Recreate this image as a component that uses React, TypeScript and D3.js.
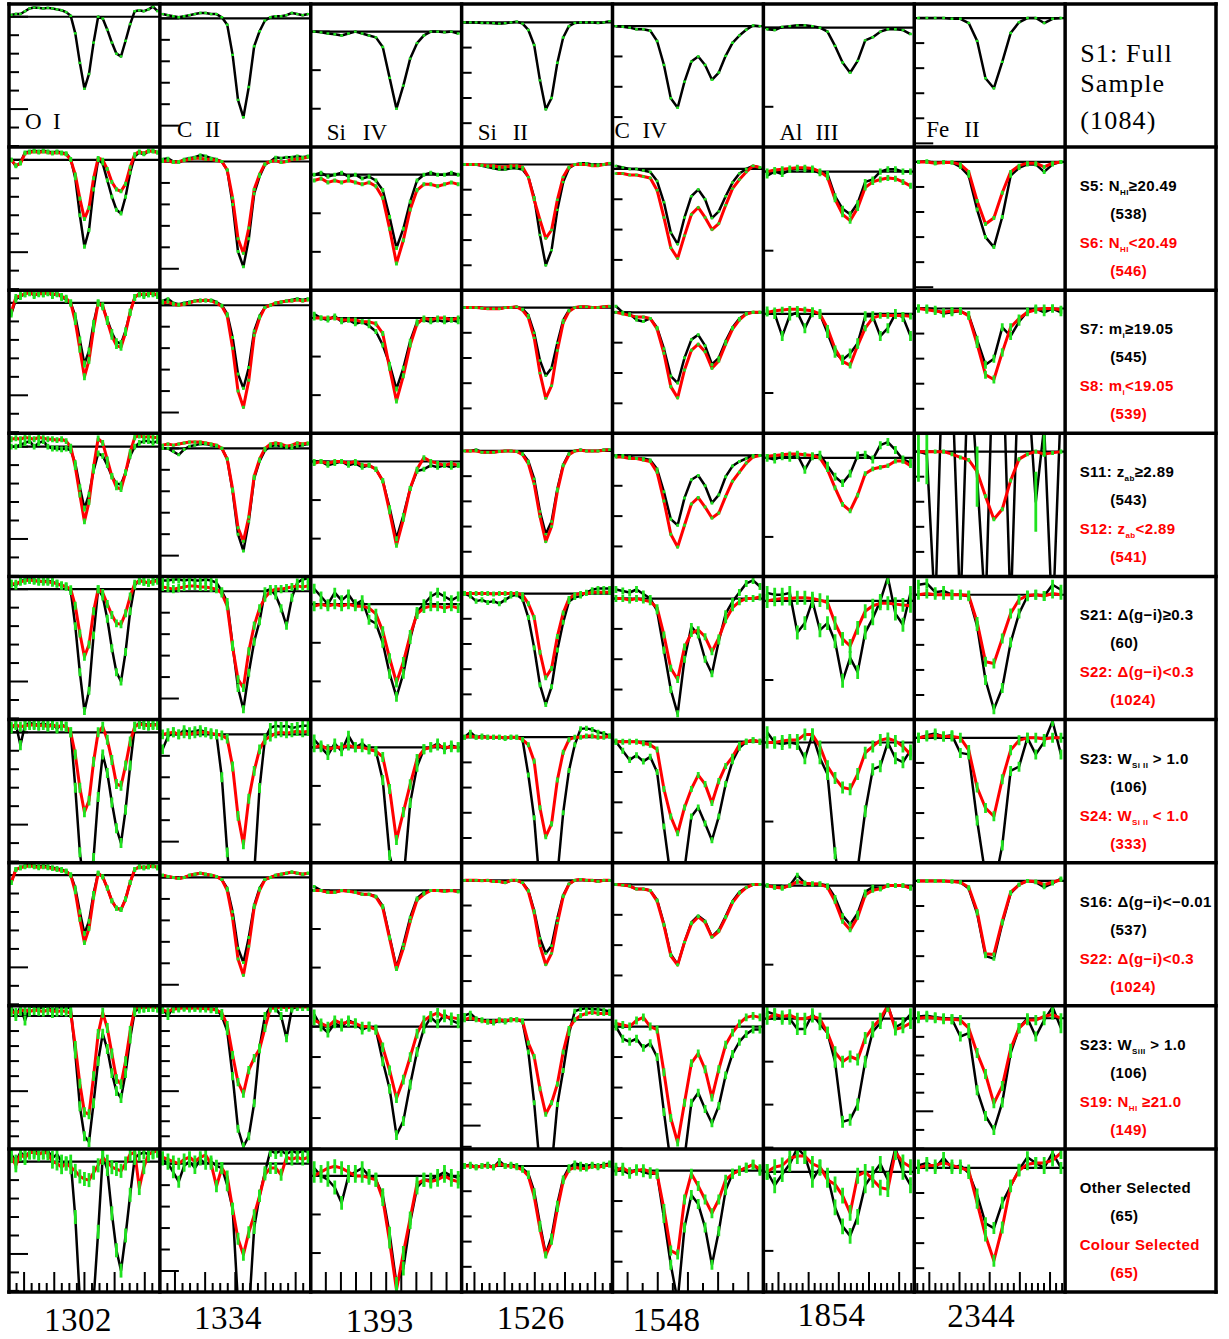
import React from "react";
import * as d3 from "d3";

// ------------------------------------------------------------------ data
const SPECIES = ["O I", "C II", "Si IV", "Si II", "C IV", "Al III", "Fe II"];
const WAVELENGTHS = ["1302", "1334", "1393", "1526", "1548", "1854", "2344"];

// normalised flux per row (row 1 = full sample), black = first sample of the pair
const OI_BLACK = [
  [1.01,1.015,1.015,1.03,1.045,1.05,1.048,1.045,1.048,1.045,1.04,1.035,1.025,1.005,0.91,0.75,0.61,0.69,0.86,1.0,0.99,0.93,0.86,0.80,0.785,0.87,0.96,1.03,1.035,1.03,1.04,1.055,1.03],
  [1.0,0.965,0.985,1.04,1.045,1.05,1.045,1.05,1.045,1.04,1.045,1.04,1.035,1.005,0.90,0.70,0.53,0.62,0.84,1.0,0.98,0.89,0.80,0.73,0.71,0.80,0.93,1.02,1.04,1.03,1.045,1.05,1.04],
  [0.94,1.02,1.035,1.05,1.06,1.04,1.055,1.05,1.06,1.04,1.055,1.03,1.02,1.0,0.93,0.80,0.67,0.74,0.89,1.0,0.98,0.91,0.84,0.79,0.78,0.85,0.95,1.03,1.05,1.04,1.05,1.05,1.04],
  [1.0,1.0,1.01,1.02,1.03,1.0,1.02,1.03,1.0,0.99,0.99,0.985,0.99,0.98,0.91,0.78,0.665,0.74,0.87,0.963,0.95,0.90,0.84,0.80,0.795,0.86,0.95,1.0,1.02,1.03,1.03,1.02,1.03],
  [1.03,1.02,1.045,1.05,1.055,1.05,1.04,1.045,1.045,1.04,1.03,1.02,1.015,0.99,0.80,0.55,0.34,0.45,0.75,1.0,0.96,0.84,0.68,0.55,0.50,0.66,0.88,1.02,1.05,1.04,1.035,1.045,1.05],
  [1.02,1.045,0.93,1.04,1.05,1.045,1.04,1.05,1.035,1.045,1.02,1.04,1.03,1.0,0.70,0.35,0.15,0.15,0.32,0.65,0.88,0.78,0.62,0.48,0.40,0.58,0.82,1.03,1.05,1.045,1.04,1.045,1.04],
  [0.96,1.03,1.04,1.05,1.055,1.05,1.045,1.05,1.045,1.04,1.035,1.03,1.02,1.0,0.93,0.80,0.684,0.75,0.90,1.01,0.99,0.93,0.86,0.82,0.813,0.87,0.96,1.03,1.045,1.04,1.045,1.05,1.04],
  [1.06,1.0,1.06,0.97,1.06,1.065,1.05,1.06,1.065,1.02,1.06,1.055,1.06,1.05,0.75,0.40,0.20,0.162,0.42,0.70,0.883,0.78,0.62,0.50,0.454,0.62,0.85,1.03,1.05,1.06,1.06,1.065,1.06],
  [1.04,1.0,1.05,1.03,1.05,1.06,1.045,1.05,1.06,1.02,1.04,1.0,0.99,1.0,0.70,0.25,0.10,0.10,0.25,0.62,1.03,0.96,0.72,0.52,0.41,0.60,0.82,1.02,1.04,1.05,1.04,1.055,1.06],
];
const OI_RED = [
  [1.0,0.97,0.98,1.035,1.04,1.045,1.04,1.045,1.04,1.035,1.04,1.035,1.03,1.0,0.92,0.79,0.68,0.74,0.90,1.01,1.0,0.95,0.88,0.84,0.83,0.87,0.96,1.03,1.045,1.035,1.05,1.045,1.04],
  [0.95,1.03,1.04,1.05,1.055,1.045,1.05,1.05,1.055,1.045,1.05,1.035,1.025,1.0,0.90,0.75,0.60,0.69,0.86,1.0,0.985,0.90,0.82,0.77,0.76,0.84,0.95,1.03,1.05,1.045,1.05,1.055,1.04],
  [1.04,1.045,1.04,1.05,1.045,1.04,1.05,1.045,1.04,1.04,1.035,1.04,1.03,1.0,0.89,0.74,0.595,0.70,0.89,1.044,1.02,0.93,0.84,0.78,0.77,0.86,0.97,1.05,1.06,1.05,1.055,1.05,1.05],
  [1.03,1.03,1.04,1.045,1.05,1.045,1.045,1.04,1.04,1.035,1.03,1.02,1.015,1.0,0.91,0.76,0.634,0.70,0.88,1.0,0.98,0.92,0.86,0.815,0.81,0.87,0.96,1.03,1.045,1.04,1.035,1.04,1.045],
  [1.03,1.04,1.03,1.035,1.04,1.04,1.035,1.04,1.03,1.04,1.03,1.035,1.03,1.0,0.88,0.70,0.567,0.63,0.84,1.0,1.03,0.96,0.85,0.72,0.71,0.82,0.95,1.03,1.045,1.04,1.035,1.04,1.04],
  [0.96,1.03,1.04,1.045,1.05,1.045,1.04,1.045,1.04,1.035,1.03,1.025,1.02,1.0,0.91,0.76,0.634,0.71,0.88,1.01,0.99,0.93,0.86,0.82,0.813,0.87,0.96,1.03,1.045,1.04,1.045,1.05,1.04],
  [1.03,1.02,1.035,1.04,1.03,1.04,1.035,1.03,1.04,1.035,1.03,1.035,1.03,1.02,0.80,0.55,0.36,0.346,0.60,0.88,1.022,0.92,0.75,0.58,0.546,0.70,0.90,1.05,1.06,1.055,1.06,1.06,1.055],
  [1.03,0.98,1.04,1.02,1.05,1.05,1.04,1.05,1.045,1.0,0.99,0.97,0.99,0.97,0.95,0.92,0.906,0.90,0.94,0.98,1.02,1.0,0.97,0.96,0.95,0.99,1.04,1.05,0.857,0.97,1.04,1.05,1.06],
];

const CII_BLACK = [
  [1.02,1.015,1.01,1.005,1.01,1.015,1.02,1.025,1.025,1.02,1.02,1.005,0.97,0.83,0.62,0.539,0.68,0.87,0.94,0.99,1.005,1.01,1.01,1.015,1.025,1.02,1.015,1.02],
  [1.01,1.015,1.0,0.995,1.01,1.015,1.02,1.03,1.025,1.015,1.01,1.0,0.96,0.80,0.58,0.509,0.64,0.85,0.93,0.985,1.0,1.02,1.015,1.02,1.02,1.025,1.02,1.025],
  [1.02,1.03,1.01,1.005,1.01,1.015,1.02,1.025,1.02,1.025,1.015,1.0,0.96,0.85,0.68,0.613,0.71,0.88,0.95,0.99,1.0,1.01,1.015,1.02,1.025,1.03,1.025,1.03],
  [1.0,1.0,0.985,0.97,0.995,1.01,1.015,1.02,1.02,1.015,1.01,1.0,0.95,0.80,0.60,0.522,0.66,0.86,0.94,0.99,1.01,1.015,1.01,1.005,1.0,1.01,1.015,1.02],
  [1.05,1.05,1.055,1.055,1.05,1.055,1.05,1.05,1.055,1.05,1.04,1.0,0.95,0.75,0.55,0.45,0.62,0.765,0.86,1.0,1.01,0.98,0.92,0.84,0.97,1.04,1.055,1.06],
  [0.93,0.99,1.01,1.0,1.02,1.01,1.015,1.02,1.01,1.0,1.0,0.80,0.45,0.20,0.10,0.10,0.15,0.35,0.75,0.98,1.03,1.04,1.035,1.04,1.03,1.035,1.04,1.04],
  [1.01,1.005,1.0,0.995,1.0,1.01,1.015,1.02,1.015,1.01,1.005,0.99,0.95,0.84,0.67,0.604,0.72,0.87,0.95,0.99,1.0,1.01,1.015,1.02,1.025,1.02,1.015,1.02],
  [1.05,1.0,1.06,1.055,1.06,1.06,1.055,1.06,1.06,1.05,1.045,1.0,0.90,0.60,0.25,0.131,0.20,0.42,0.79,1.0,1.06,1.05,1.0,0.853,1.05,1.06,1.06,1.065],
  [1.02,1.0,0.96,0.916,0.99,1.01,0.98,1.02,1.0,1.01,0.99,0.98,0.90,0.79,0.35,0.20,0.30,0.70,0.85,0.96,1.06,1.05,1.06,1.045,1.06,1.05,1.06,1.055],
];
const CII_RED = [
  [1.0,1.005,0.995,1.0,1.005,1.01,1.015,1.015,1.01,1.01,1.005,1.0,0.96,0.83,0.64,0.572,0.69,0.87,0.94,0.99,1.0,1.005,0.995,1.0,1.01,1.01,1.015,1.02],
  [1.01,1.015,1.005,1.0,1.005,1.01,1.02,1.02,1.025,1.02,1.01,0.995,0.95,0.80,0.60,0.524,0.65,0.86,0.94,0.99,1.0,1.01,1.015,1.02,1.02,1.025,1.02,1.025],
  [1.015,1.02,1.015,1.02,1.025,1.03,1.03,1.03,1.025,1.02,1.015,1.0,0.95,0.81,0.63,0.567,0.68,0.87,0.95,1.0,1.02,1.025,1.02,1.01,1.015,1.025,1.02,1.025],
  [1.02,1.015,1.01,1.015,1.02,1.025,1.025,1.02,1.02,1.015,1.01,0.99,0.93,0.74,0.59,0.55,0.72,0.84,0.92,0.97,1.0,1.01,1.01,1.015,1.02,1.025,1.02,1.025],
  [1.0,1.005,1.01,1.0,1.005,1.0,1.005,1.01,1.01,1.005,1.0,0.995,0.98,0.85,0.62,0.487,0.70,0.83,0.93,0.975,0.99,1.005,1.01,1.005,1.01,1.015,1.01,1.015],
  [1.01,1.005,1.0,0.995,1.0,1.01,1.015,1.02,1.015,1.01,1.005,0.99,0.94,0.81,0.62,0.544,0.68,0.86,0.94,0.99,1.0,1.01,1.015,1.02,1.025,1.02,1.015,1.02],
  [1.04,1.03,1.045,1.05,1.055,1.05,1.055,1.05,1.05,1.045,1.04,1.02,0.94,0.74,0.56,0.484,0.64,0.72,0.78,0.92,1.05,1.055,1.06,1.055,1.06,1.065,1.06,1.06],
  [1.03,1.02,1.01,1.0,1.02,1.03,1.01,1.03,1.04,1.0,0.895,0.98,0.94,0.79,0.65,0.576,0.68,0.76,0.85,0.95,0.98,0.98,0.948,1.03,1.02,1.03,1.02,1.03],
];

const SIIV_BLACK = [
  [1.0,0.998,0.995,0.993,0.99,0.995,1.0,0.995,0.99,0.985,0.96,0.88,0.80,0.86,0.93,0.97,0.99,1.0,1.0,0.998,1.0,0.995],
  [1.0,1.005,0.995,1.0,1.005,0.995,1.0,0.99,0.995,0.985,0.96,0.89,0.81,0.86,0.93,0.985,1.0,1.005,1.0,1.0,1.005,1.0],
  [1.01,1.0,0.995,1.005,0.99,0.995,0.985,0.99,0.98,0.965,0.93,0.88,0.816,0.87,0.94,0.99,0.995,0.99,0.995,0.99,0.995,0.99],
  [1.0,1.0,0.99,0.995,1.0,0.99,0.995,0.985,0.99,0.98,0.95,0.88,0.80,0.86,0.93,0.975,0.98,0.99,0.985,0.99,0.985,0.99],
  [1.04,1.02,1.0,1.03,1.01,1.025,1.0,1.01,0.96,0.95,0.90,0.82,0.76,0.82,0.91,0.98,1.0,1.02,1.03,1.02,1.01,1.02],
  [1.02,1.0,0.98,1.01,0.99,1.03,1.0,1.01,0.995,0.99,0.915,0.72,0.65,0.65,0.856,0.95,0.995,1.0,1.01,0.995,1.005,1.0],
  [1.01,1.0,0.995,0.995,1.0,0.998,0.995,0.99,0.99,0.985,0.96,0.88,0.80,0.86,0.93,0.98,0.995,1.0,1.0,0.998,1.0,0.997],
  [1.04,1.0,0.98,1.01,1.0,1.02,1.01,0.99,1.0,0.99,0.886,0.796,0.644,0.69,0.81,0.917,0.993,1.03,1.01,1.04,1.02,1.01],
  [1.02,1.0,0.99,0.97,0.93,1.0,1.01,1.02,1.0,0.99,0.95,0.85,0.72,0.76,0.88,0.97,0.99,0.99,1.0,1.01,1.0,0.995],
];
const SIIV_RED = [
  [0.985,0.99,0.98,0.985,0.98,0.985,0.98,0.975,0.98,0.97,0.94,0.86,0.77,0.83,0.91,0.96,0.975,0.975,0.97,0.975,0.98,0.975],
  [1.0,1.0,1.0,1.0,0.995,0.995,0.995,0.99,0.99,0.985,0.96,0.87,0.785,0.85,0.93,0.985,1.0,0.995,1.0,1.0,0.995,1.0],
  [0.995,1.0,0.995,1.0,1.0,0.995,1.0,0.99,0.99,0.98,0.95,0.87,0.783,0.85,0.93,0.98,1.01,1.0,0.995,0.99,0.995,0.99],
  [0.995,1.0,0.995,1.0,0.995,1.0,0.995,0.995,0.99,0.975,0.93,0.86,0.797,0.85,0.92,0.975,0.99,0.995,0.995,0.99,0.995,0.99],
  [1.0,1.005,0.995,1.0,1.0,1.005,1.0,1.0,0.995,0.99,0.975,0.892,0.76,0.832,0.904,0.97,0.995,1.0,1.005,1.0,1.0,1.0],
  [1.0,1.0,0.995,0.995,1.0,0.998,0.995,0.99,0.99,0.983,0.955,0.875,0.795,0.85,0.92,0.975,0.99,1.0,1.0,0.998,1.0,0.997],
  [1.02,1.01,1.0,1.02,1.01,1.015,1.01,1.0,1.0,0.99,0.932,0.856,0.765,0.826,0.90,0.977,1.02,1.035,1.045,1.03,1.03,1.025],
  [1.0,1.01,1.02,1.025,1.02,1.01,1.0,1.0,0.995,0.99,0.94,0.83,0.705,0.80,0.89,0.98,0.99,0.985,0.99,1.0,0.99,0.985],
];

const SIII_BLACK = [
  [1.0,1.0,1.0,0.998,0.998,0.997,0.995,0.997,1.0,1.003,0.995,0.97,0.91,0.77,0.655,0.70,0.84,0.94,0.985,0.998,1.0,1.0,1.0,0.998,1.0,1.005],
  [1.0,1.0,1.0,0.995,0.99,0.985,0.98,0.98,0.985,0.985,0.98,0.95,0.87,0.72,0.60,0.66,0.82,0.93,0.985,1.0,1.005,1.005,1.0,1.0,1.0,1.005],
  [1.0,1.0,1.0,0.998,0.995,0.995,0.995,1.0,1.0,1.003,0.995,0.97,0.90,0.79,0.73,0.76,0.86,0.95,0.99,1.0,1.003,1.003,1.0,1.0,1.003,1.005],
  [1.0,1.0,1.005,0.995,0.995,0.995,0.998,1.0,1.0,0.998,0.99,0.96,0.89,0.76,0.67,0.72,0.85,0.945,0.99,1.0,1.005,1.0,1.0,1.0,1.005,1.005],
  [1.0,0.99,0.97,0.975,0.965,0.97,0.96,0.975,0.99,0.995,0.978,0.905,0.785,0.638,0.56,0.63,0.776,0.886,0.969,0.985,0.99,1.005,1.015,1.02,1.02,1.02],
  [1.0,1.02,1.0,1.005,1.0,1.0,1.0,0.995,1.0,1.0,0.99,0.85,0.68,0.40,0.35,0.35,0.45,0.70,0.868,0.97,1.033,1.035,1.03,1.02,1.015,1.005],
  [1.0,1.0,1.0,0.998,1.0,0.995,0.995,0.99,1.0,1.0,0.99,0.96,0.88,0.77,0.71,0.74,0.85,0.94,0.985,1.0,1.003,1.0,1.0,0.995,1.0,1.0],
  [1.02,1.03,1.005,1.0,0.99,0.985,0.995,0.99,1.0,1.0,0.99,0.848,0.608,0.30,0.25,0.30,0.60,0.76,0.935,1.04,1.05,1.055,1.05,1.05,1.045,1.04],
  [1.0,1.005,0.995,1.0,1.005,0.995,1.02,1.0,1.005,1.0,0.99,0.97,0.90,0.77,0.65,0.72,0.85,0.95,0.995,1.01,1.005,1.0,1.005,1.0,1.005,1.01],
];
const SIII_RED = [
  [1.0,1.0,1.0,0.998,0.995,0.995,0.99,0.99,0.995,0.995,0.99,0.95,0.86,0.78,0.707,0.74,0.86,0.95,0.99,1.0,1.0,1.0,0.995,0.995,1.0,1.005],
  [1.0,1.0,1.0,0.998,0.995,0.995,0.995,1.0,1.0,1.003,0.99,0.96,0.88,0.74,0.64,0.69,0.83,0.94,0.985,1.0,1.003,1.003,1.0,1.0,1.003,1.005],
  [1.0,1.0,1.0,0.995,0.995,0.995,0.998,1.0,1.0,0.998,0.985,0.95,0.87,0.74,0.64,0.70,0.84,0.94,0.985,1.0,1.003,1.0,1.0,1.0,1.003,1.005],
  [1.0,1.0,1.0,1.0,1.0,0.998,1.0,1.0,1.0,1.0,0.995,0.96,0.905,0.767,0.666,0.703,0.83,0.923,0.98,0.995,1.0,1.0,1.005,1.005,1.005,1.005],
  [1.0,1.005,1.0,1.0,1.0,1.0,1.0,0.998,1.0,1.0,0.99,0.97,0.905,0.72,0.605,0.656,0.83,0.94,0.99,1.0,1.0,1.005,1.005,1.0,1.0,1.005],
  [1.0,1.0,1.0,0.998,1.0,0.995,0.995,0.99,1.0,1.0,0.99,0.955,0.87,0.74,0.665,0.71,0.83,0.935,0.985,1.0,1.003,1.0,1.0,0.995,1.0,1.0],
  [1.0,1.01,1.0,0.995,0.99,0.99,1.0,0.995,1.0,1.0,0.995,0.89,0.826,0.674,0.554,0.608,0.696,0.848,0.958,1.0,1.02,1.03,1.035,1.03,1.03,1.03],
  [1.0,1.0,0.995,1.0,1.0,0.995,1.01,1.0,1.0,0.995,0.985,0.96,0.88,0.75,0.645,0.70,0.83,0.94,0.985,0.995,0.99,0.99,1.0,0.995,1.0,1.005],
];

const CIV_BLACK = [
  [1.0,0.998,0.995,0.99,0.99,0.985,0.951,0.872,0.762,0.731,0.817,0.883,0.90,0.872,0.823,0.847,0.902,0.945,0.969,0.988,1.002,1.0],
  [1.01,1.005,1.0,1.0,0.995,0.99,0.96,0.89,0.79,0.752,0.84,0.91,0.932,0.90,0.838,0.86,0.91,0.955,0.985,1.0,1.01,1.005],
  [1.02,1.0,0.995,0.975,0.97,0.98,0.95,0.88,0.79,0.767,0.85,0.91,0.926,0.89,0.828,0.85,0.905,0.95,0.98,0.995,1.0,1.0],
  [1.0,1.0,0.995,0.99,0.99,0.985,0.955,0.88,0.79,0.77,0.86,0.92,0.934,0.90,0.843,0.87,0.93,0.965,0.98,0.99,1.0,1.0],
  [1.03,1.025,1.02,1.03,1.015,1.0,0.96,0.83,0.70,0.62,0.80,0.908,0.88,0.80,0.752,0.86,0.95,0.99,1.02,1.05,1.06,1.04],
  [1.0,0.97,0.94,0.955,0.935,0.95,0.90,0.72,0.55,0.52,0.58,0.753,0.783,0.73,0.675,0.753,0.86,0.936,0.98,1.0,1.005,1.0],
  [1.0,0.998,0.995,0.985,0.985,0.98,0.95,0.87,0.77,0.736,0.81,0.875,0.897,0.88,0.828,0.85,0.895,0.945,0.975,0.99,1.0,1.0],
  [1.0,0.96,0.95,0.96,0.93,0.945,0.90,0.72,0.55,0.50,0.57,0.75,0.783,0.73,0.683,0.74,0.84,0.91,0.95,0.975,0.99,0.99],
  [1.01,1.0,0.99,1.005,0.995,0.99,0.99,0.844,0.69,0.57,0.813,0.92,0.89,0.813,0.69,0.80,0.936,0.99,1.0,1.01,1.02,1.0],
];
const CIV_RED = [
  [0.985,0.985,0.98,0.98,0.975,0.97,0.93,0.84,0.74,0.705,0.78,0.85,0.873,0.84,0.80,0.82,0.88,0.935,0.965,0.99,1.01,1.005],
  [1.0,0.995,0.99,0.985,0.985,0.98,0.945,0.865,0.755,0.718,0.81,0.875,0.895,0.87,0.816,0.84,0.895,0.945,0.975,0.995,1.0,1.0],
  [0.995,0.995,0.99,0.99,0.985,0.98,0.945,0.85,0.74,0.698,0.77,0.84,0.861,0.83,0.794,0.81,0.865,0.915,0.945,0.975,0.995,1.0],
  [1.0,1.0,0.995,1.0,0.995,0.99,0.97,0.88,0.77,0.733,0.84,0.885,0.897,0.874,0.825,0.87,0.93,0.97,0.99,1.0,1.0,1.005],
  [1.0,1.0,1.0,1.0,0.995,0.99,0.974,0.844,0.753,0.698,0.783,0.844,0.89,0.86,0.798,0.87,0.92,0.95,0.99,1.0,1.005,1.0],
  [1.0,0.998,0.995,0.985,0.985,0.98,0.945,0.865,0.765,0.734,0.81,0.87,0.893,0.875,0.826,0.845,0.89,0.94,0.97,0.99,1.0,1.0],
  [1.01,1.005,1.0,1.02,1.03,1.0,0.99,0.85,0.70,0.62,0.75,0.88,0.912,0.86,0.767,0.86,0.94,0.98,1.01,1.03,1.035,1.03],
  [1.0,1.01,0.995,1.0,1.005,0.995,0.99,0.874,0.737,0.724,0.905,0.99,0.95,0.905,0.86,0.905,0.97,0.99,1.0,1.01,1.02,1.005],
];

const ALIII_BLACK = [
  [0.998,0.997,1.001,1.002,1.003,1.003,1.002,1.0,0.995,0.977,0.956,0.943,0.958,0.984,0.988,0.995,0.998,0.998,0.997,0.992],
  [0.995,1.0,0.997,1.002,1.004,1.003,1.002,0.998,0.997,0.969,0.953,0.946,0.96,0.987,0.99,1.0,1.003,1.003,1.0,1.0],
  [1.003,1.0,0.972,0.998,1.002,0.982,1.002,1.0,0.976,0.951,0.942,0.95,0.963,0.997,0.997,0.972,0.982,1.0,0.996,0.972],
  [1.0,0.998,1.002,1.0,1.004,0.985,1.002,1.004,0.99,0.976,0.968,0.98,1.003,1.004,0.998,1.016,1.02,1.01,0.998,0.994],
  [1.01,1.008,1.008,1.01,0.96,0.972,1.0,0.963,0.972,0.949,0.899,0.928,0.91,0.96,0.978,1.0,1.03,0.984,0.97,1.01],
  [1.013,1.0,0.998,1.0,0.998,0.98,1.01,0.98,0.96,0.86,0.80,0.80,0.84,0.913,0.966,0.97,1.0,0.98,0.975,0.99],
  [1.0,0.998,0.997,1.0,1.013,1.003,1.002,1.002,1.0,0.985,0.962,0.951,0.965,0.992,0.998,0.996,1.0,1.0,1.0,0.997],
  [1.016,1.01,1.0,1.0,0.976,0.976,1.01,0.987,0.967,0.90,0.76,0.765,0.80,0.90,0.97,0.99,1.03,0.98,0.99,1.01],
  [1.0,0.983,0.997,1.01,1.03,1.02,0.99,1.005,0.995,0.955,0.931,0.919,0.943,0.983,0.997,1.01,0.99,1.03,1.0,0.983],
];
const ALIII_RED = [
  [1.0,1.002,1.003,1.004,1.005,1.005,1.004,1.0,0.993,0.965,0.946,0.938,0.954,0.98,0.987,0.99,0.992,0.991,0.987,0.982],
  [1.002,1.004,1.005,1.006,1.006,1.005,1.004,1.0,0.982,0.956,0.94,0.935,0.96,0.982,0.995,0.998,0.998,0.998,0.998,0.997],
  [1.002,1.003,1.004,1.005,1.005,1.004,1.003,1.0,0.985,0.962,0.941,0.933,0.953,0.98,0.986,0.988,0.99,0.996,0.996,0.99],
  [1.0,1.002,1.003,1.003,1.004,1.004,1.003,1.001,0.998,0.972,0.952,0.943,0.966,0.987,0.994,0.997,0.997,0.996,0.995,0.994],
  [1.0,1.0,1.002,1.003,1.003,1.01,1.01,0.995,0.97,0.955,0.943,0.941,0.96,0.987,0.995,1.003,1.005,1.002,0.995,0.985],
  [1.0,0.998,0.997,1.0,1.005,1.003,1.002,1.002,0.998,0.98,0.955,0.944,0.96,0.988,0.994,0.996,1.0,1.0,1.0,0.997],
  [1.0,1.01,1.005,1.008,1.0,1.0,1.005,1.0,0.967,0.922,0.90,0.912,0.905,0.955,0.98,1.0,1.03,0.975,0.98,0.99],
  [1.0,1.006,1.008,1.017,1.02,1.02,1.01,1.006,0.99,0.984,0.97,0.948,0.995,1.0,0.99,0.98,0.978,1.025,1.012,1.006],
];

const FEII_BLACK = [
  [1.0,1.0,1.0,1.0,0.997,0.997,0.98,0.909,0.76,0.72,0.825,0.94,0.983,1.0,1.0,0.98,0.997,1.0],
  [1.0,1.003,0.995,1.0,0.998,0.98,0.945,0.81,0.70,0.66,0.78,0.945,0.976,0.99,0.99,0.96,0.99,1.0],
  [1.0,1.0,0.995,0.98,0.985,0.99,0.974,0.875,0.776,0.80,0.925,0.89,0.947,0.988,1.0,0.985,1.0,0.985],
  [1.0,0.99,0.35,1.5,1.3,0.35,1.4,0.90,0.35,1.5,1.45,0.35,1.4,1.3,0.80,1.1,0.30,1.2],
  [1.04,1.045,1.01,1.015,1.0,1.0,0.994,0.875,0.66,0.543,0.628,0.809,0.925,0.994,1.0,0.995,1.04,1.02],
  [1.0,1.01,1.017,1.005,1.01,0.94,0.934,0.67,0.45,0.40,0.571,0.868,0.885,1.0,0.934,0.984,1.066,0.934],
  [1.0,1.0,1.0,1.0,0.998,0.995,0.97,0.87,0.70,0.69,0.83,0.95,0.985,1.0,0.995,0.975,0.99,1.01],
  [1.01,1.013,1.005,1.0,0.995,0.902,0.92,0.613,0.475,0.40,0.547,0.813,0.947,1.0,0.902,0.99,1.06,0.947],
  [1.01,1.02,1.0,1.04,1.0,1.01,0.98,0.894,0.779,0.76,0.861,0.927,0.993,1.043,1.02,1.0,1.06,1.0],
];
const FEII_RED = [
  [1.0,1.0,0.995,0.998,0.998,0.99,0.96,0.844,0.752,0.776,0.877,0.96,0.985,0.995,0.995,0.98,0.995,1.0],
  [1.0,0.995,0.99,0.985,0.99,0.99,0.97,0.858,0.736,0.717,0.825,0.925,0.96,0.985,0.995,1.0,1.0,0.995],
  [1.0,1.0,1.0,1.0,0.99,0.977,0.967,0.92,0.822,0.73,0.77,0.885,0.97,0.99,1.0,0.99,0.995,1.0],
  [1.0,1.005,1.0,1.0,1.0,1.0,0.997,0.891,0.733,0.726,0.825,0.925,0.98,0.997,1.0,0.995,1.005,1.0],
  [1.0,1.005,1.01,1.005,1.005,1.0,0.951,0.802,0.72,0.687,0.835,0.951,0.99,1.0,1.0,0.995,1.0,1.0],
  [1.0,1.0,1.0,1.0,0.998,0.995,0.975,0.88,0.71,0.707,0.84,0.955,0.985,1.0,0.998,0.985,0.995,1.005],
  [1.0,1.005,1.0,0.995,0.995,0.99,0.947,0.813,0.70,0.543,0.636,0.836,0.947,0.99,0.99,1.01,1.02,1.0],
  [1.0,1.01,1.01,1.02,1.01,1.0,0.99,0.861,0.73,0.63,0.762,0.93,0.99,1.015,1.02,1.02,1.03,1.06],
];

// y-axis (flux) ranges per [row][column]
const Y_LO = [
  [0.294,0.400,0.7005,0.505,0.601,0.849,0.485],
  [0.294,0.400,0.7005,0.501,0.600,0.850,0.488],
  [0.294,0.403,0.701,0.501,0.601,0.849,0.502],
  [0.297,0.403,0.702,0.502,0.601,0.850,0.502],
  [0.294,0.402,0.701,0.500,0.601,0.850,0.502],
  [0.294,0.402,0.701,0.502,0.601,0.848,0.502],
  [0.292,0.402,0.701,0.502,0.600,0.848,0.502],
  [0.116,0.116,0.599,0.390,0.599,0.697,0.298],
  [0.294,0.402,0.699,0.500,0.600,0.848,0.505],
];
const Y_HI = [
  [1.069,1.067,1.0715,1.073,1.073,1.030,1.056],
  [1.069,1.067,1.0715,1.069,1.072,1.031,1.059],
  [1.069,1.070,1.072,1.069,1.073,1.030,1.073],
  [1.072,1.070,1.073,1.070,1.073,1.031,1.073],
  [1.069,1.069,1.072,1.068,1.073,1.031,1.073],
  [1.069,1.069,1.072,1.070,1.073,1.029,1.073],
  [1.067,1.069,1.072,1.070,1.072,1.029,1.073],
  [1.068,1.068,1.068,1.066,1.068,1.030,1.067],
  [1.069,1.069,1.070,1.068,1.072,1.029,1.076],
];
// 1-sigma flux errors per [row][column]
const ERR_BLACK = [
  [0.0065,0.0056,0.0031,0.0048,0.004,0.0015,0.0048],
  [0.011,0.007,0.0052,0.0048,0.004,0.0038,0.008],
  [0.019,0.007,0.0065,0.0048,0.005,0.0063,0.016],
  [0.016,0.007,0.0065,0.0048,0.005,0.005,0.12],
  [0.0215,0.019,0.013,0.010,0.0116,0.0088,0.02],
  [0.027,0.023,0.013,0.010,0.010,0.0076,0.02],
  [0.0134,0.007,0.004,0.0048,0.004,0.0031,0.008],
  [0.033,0.027,0.016,0.012,0.013,0.014,0.027],
  [0.038,0.028,0.018,0.012,0.0165,0.010,0.024],
];
const ERR_RED = [
  [0,0,0,0,0,0,0],
  [0.011,0.007,0.0052,0.0048,0.004,0.0038,0.008],
  [0.019,0.007,0.0065,0.0048,0.005,0.004,0.016],
  [0.016,0.007,0.0065,0.0048,0.005,0.003,0.008],
  [0.0215,0.019,0.013,0.010,0.0116,0.0088,0.02],
  [0.027,0.023,0.013,0.010,0.010,0.0076,0.02],
  [0.0134,0.007,0.004,0.0048,0.004,0.0031,0.008],
  [0.033,0.027,0.016,0.012,0.013,0.014,0.027],
  [0.038,0.028,0.018,0.012,0.0165,0.010,0.024],
];

const FULL_SAMPLE = ["S1: Full", "Sample", "(1084)"];
const LABEL_BLACK = ["S5: N_{HI}≥20.49","S7: m_{i}≥19.05","S11: z_{ab}≥2.89","S21: Δ(g−i)≥0.3","S23: W_{Si II}  >  1.0","S16: Δ(g−i)<−0.01","S23: W_{SiII}  >  1.0","Other Selected"];
const COUNT_BLACK = ["(538)","(545)","(543)","(60)","(106)","(537)","(106)","(65)"];
const LABEL_RED = ["S6: N_{HI}<20.49","S8: m_{i}<19.05","S12: z_{ab}<2.89","S22: Δ(g−i)<0.3","S24: W_{Si II}  <  1.0","S22: Δ(g−i)<0.3","S19: N_{HI} ≥21.0","Colour Selected"];
const COUNT_RED = ["(546)","(539)","(541)","(1024)","(333)","(1024)","(149)","(65)"];

const BLACK_SERIES = [OI_BLACK, CII_BLACK, SIIV_BLACK, SIII_BLACK, CIV_BLACK, ALIII_BLACK, FEII_BLACK];
const RED_SERIES = [OI_RED, CII_RED, SIIV_RED, SIII_RED, CIV_RED, ALIII_RED, FEII_RED];

// ------------------------------------------------------------------ layout / style
const W = 1229, H = 1339;
const GREEN = "#1fe21f";
const RED = "#ff0000";
const SERIF = "'Liberation Serif','Times New Roman',serif";
const SANS = "'Liberation Sans',Arial,sans-serif";
// species label: [first word dx, second word dx, baseline y]
const SPECIES_POS = [[16,44,129],[17,45,137],[16,52,140],[16,51,140],[2,30,138],[16,52,140],[12,50,137]];
// wavelength label: [centre dx, baseline y]
const WAVE_POS = [[69,1331],[68,1329],[69,1332],[69,1329],[54,1331],[68,1326],[67,1327]];
// bottom tick pattern per column: [first major, major step, minors between]
const XTICK = [[0.1,0.2,3],[0.1,0.2,3],[0.1,0.1,0],[0.085,0.2,3],[0.1,0.2,1],[0.1,0.2,4],[0.1,0.2,4]];

function Rich({ text }: { text: string }) {
  const parts = text.split(/(_\{[^}]*\})/).filter((p) => p !== "");
  let sub = false;
  return (
    <>
      {parts.map((p, k) => {
        if (p.startsWith("_{")) {
          const el = (
            <tspan key={k} dy={sub ? 0 : 4} fontSize={8}>
              {p.slice(2, -1)}
            </tspan>
          );
          sub = true;
          return el;
        }
        const el = (
          <tspan key={k} dy={sub ? -4 : 0}>
            {p}
          </tspan>
        );
        sub = false;
        return el;
      })}
    </>
  );
}

function Panel({ c, r, colX, rowY }: any) {
  const x0 = colX(c), x1 = colX(c + 1);
  const y0 = rowY(r), y1 = rowY(r + 1);
  const black: number[] = BLACK_SERIES[c][r];
  const red: number[] | null = r > 0 ? RED_SERIES[c][r - 1] : null;
  const y = d3.scaleLinear().domain([Y_LO[r][c], Y_HI[r][c]]).range([y1, y0]);
  const xFor = (n: number) => d3.scaleLinear().domain([-0.5, n - 0.5]).range([x0, x1]);
  const xb = xFor(black.length);
  const lineB = d3.line<number>().x((_, i) => xb(i)).y((d) => y(d))(black) || "";
  let lineR = "";
  let xr = xb;
  if (red) {
    xr = xFor(red.length);
    lineR = d3.line<number>().x((_, i) => xr(i)).y((d) => y(d))(red) || "";
  }
  const eB = ERR_BLACK[r][c], eR = ERR_RED[r][c];
  const clipId = `clip-${r}-${c}`;

  const ticks: { v: number; major: boolean }[] = [];
  for (let k = Math.ceil(Y_LO[r][c] * 10 - 1e-6); k <= Math.floor(Y_HI[r][c] * 10 + 1e-6); k++) {
    ticks.push({ v: k / 10, major: k % 5 === 0 });
  }
  const xt: { f: number; major: boolean }[] = [];
  if (r === 8) {
    const [start, step, minors] = XTICK[c];
    const sub = step / (minors + 1);
    for (let j = -20; j < 60; j++) {
      const f = start + j * sub;
      if (f <= 0.005 || f >= 0.995) continue;
      xt.push({ f, major: ((j % (minors + 1)) + (minors + 1)) % (minors + 1) === 0 });
    }
  }
  const fx = d3.scaleLinear().domain([0, 1]).range([x0, x1]);

  return (
    <g>
      <clipPath id={clipId}>
        <rect x={x0} y={y0} width={x1 - x0} height={y1 - y0} />
      </clipPath>
      {ticks.map((t, i) => (
        <line key={"yt" + i} x1={x0} x2={x0 + (t.major ? 19 : 10)} y1={y(t.v)} y2={y(t.v)} stroke="#000" strokeWidth={2} />
      ))}
      {xt.map((t, i) => (
        <line key={"xt" + i} x1={fx(t.f)} x2={fx(t.f)} y1={y1} y2={y1 - (t.major ? 20 : 9)} stroke="#000" strokeWidth={2} />
      ))}
      <g clipPath={`url(#${clipId})`}>
        <line x1={x0} x2={x1} y1={y(1)} y2={y(1)} stroke="#000" strokeWidth={2.2} />
        <path d={lineB} fill="none" stroke="#000" strokeWidth={2.5} strokeLinejoin="round" />
        {red && <path d={lineR} fill="none" stroke={RED} strokeWidth={3} strokeLinejoin="round" />}
        {black.map((v, i) => (
          <line key={"eb" + i} x1={xb(i)} x2={xb(i)} y1={y(v - eB)} y2={y(v + eB)} stroke={GREEN} strokeWidth={2.8} />
        ))}
        {red &&
          red.map((v, i) => (
            <line key={"er" + i} x1={xr(i)} x2={xr(i)} y1={y(v - eR)} y2={y(v + eR)} stroke={GREEN} strokeWidth={2.8} />
          ))}
      </g>
    </g>
  );
}

export default function App() {
  const colX = d3.scaleLinear().domain([0, 8]).range([9, 1216]);
  const rowY = d3.scaleLinear().domain([0, 9]).range([4, 1292]);
  const panels: any[] = [];
  for (let c = 0; c < 7; c++) for (let r = 0; r < 9; r++) panels.push(<Panel key={`${r}-${c}`} c={c} r={r} colX={colX} rowY={rowY} />);
  const lx = colX(7);

  return (
    <svg width={W} height={H} viewBox={`0 0 ${W} ${H}`} style={{ position: "absolute", left: 0, top: 0, background: "#fff" }}>
      <rect x={0} y={0} width={W} height={H} fill="#fff" />
      {panels}
      {SPECIES.map((s, c) => {
        const [a, b] = s.split(" ");
        const [dx1, dx2, by] = SPECIES_POS[c];
        return (
          <g key={"sp" + c} fontFamily={SERIF} fontSize={23} fill="#000">
            <text x={colX(c) + dx1} y={by}>{a}</text>
            <text x={colX(c) + dx2} y={by}>{b}</text>
          </g>
        );
      })}
      {WAVELENGTHS.map((w, c) => (
        <text key={"wl" + c} x={colX(c) + WAVE_POS[c][0]} y={WAVE_POS[c][1]} fontFamily={SERIF} fontSize={33} textAnchor="middle" fill="#000" letterSpacing={0.5}>
          {w}
        </text>
      ))}
      <g fontFamily={SERIF} fontSize={26} fill="#000" letterSpacing={1.2}>
        <text x={lx + 15} y={62}>{FULL_SAMPLE[0]}</text>
        <text x={lx + 15} y={92}>{FULL_SAMPLE[1]}</text>
        <text x={lx + 15} y={129}>{FULL_SAMPLE[2]}</text>
      </g>
      {LABEL_BLACK.map((t, i) => {
        const top = rowY(i + 1);
        return (
          <g key={"lab" + i} fontFamily={SANS} fontWeight="bold" fontSize={15} style={{ whiteSpace: "pre" }} letterSpacing={0.4}>
            <text x={lx + 14.5} y={top + 44} fill="#000"><Rich text={t} /></text>
            <text x={lx + 45} y={top + 72} fill="#000">{COUNT_BLACK[i]}</text>
            <text x={lx + 14.5} y={top + 101} fill={RED}><Rich text={LABEL_RED[i]} /></text>
            <text x={lx + 45} y={top + 129} fill={RED}>{COUNT_RED[i]}</text>
          </g>
        );
      })}
      {d3.range(0, 9).map((k) => (
        <line key={"gv" + k} x1={colX(k)} x2={colX(k)} y1={rowY(0)} y2={rowY(9)} stroke="#000" strokeWidth={3.5} strokeLinecap="square" />
      ))}
      {d3.range(0, 10).map((k) => (
        <line key={"gh" + k} x1={colX(0)} x2={colX(8)} y1={rowY(k)} y2={rowY(k)} stroke="#000" strokeWidth={3.5} strokeLinecap="square" />
      ))}
    </svg>
  );
}
